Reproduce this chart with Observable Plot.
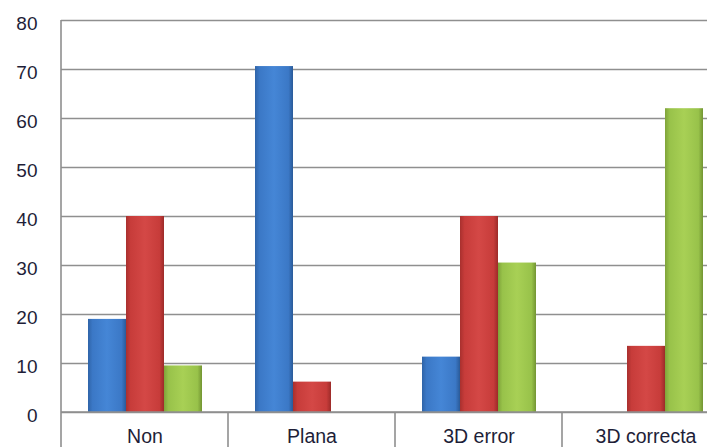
<!DOCTYPE html>
<html>
<head>
<meta charset="utf-8">
<script src="https://cdn.jsdelivr.net/npm/d3@7"></script>
<script src="https://cdn.jsdelivr.net/npm/@observablehq/plot@0.6"></script>
<style>
  html, body { margin: 0; padding: 0; background: #fff; }
  #chart svg { display: block; }
</style>
</head>
<body>
<svg width="0" height="0" style="position:absolute">
  <defs>
    <linearGradient id="gBlue" x1="0" x2="1" y1="0" y2="0">
      <stop offset="0" stop-color="#2f64a8"/>
      <stop offset="0.12" stop-color="#3b78c6"/>
      <stop offset="0.5" stop-color="#4586d6"/>
      <stop offset="0.88" stop-color="#3b78c6"/>
      <stop offset="1" stop-color="#2a5a98"/>
    </linearGradient>
    <linearGradient id="gRed" x1="0" x2="1" y1="0" y2="0">
      <stop offset="0" stop-color="#a8302e"/>
      <stop offset="0.12" stop-color="#c73c3a"/>
      <stop offset="0.5" stop-color="#d44846"/>
      <stop offset="0.88" stop-color="#c73c3a"/>
      <stop offset="1" stop-color="#9c2b29"/>
    </linearGradient>
    <linearGradient id="gGreen" x1="0" x2="1" y1="0" y2="0">
      <stop offset="0" stop-color="#7fa33a"/>
      <stop offset="0.12" stop-color="#98c24a"/>
      <stop offset="0.5" stop-color="#a8d055"/>
      <stop offset="0.88" stop-color="#98c24a"/>
      <stop offset="1" stop-color="#739533"/>
    </linearGradient>
  </defs>
</svg>
<div id="chart"></div>
<script>
const categories = ["Non", "Plana", "3D error", "3D correcta"];
const seriesNames = ["A", "B", "C"];
const seriesA = [19, 70.6, 11.3, 0];
const seriesB = [40, 6.2, 40, 13.5];
const seriesC = [9.5, 0, 30.5, 62];
const yTicks = [0, 10, 20, 30, 40, 50, 60, 70, 80];
const fills = ["url(#gBlue)", "url(#gRed)", "url(#gGreen)"];

const allSeries = [seriesA, seriesB, seriesC];
const data = [];
categories.forEach((c, i) => {
  seriesNames.forEach((s, j) => {
    data.push({cat: c, series: s, value: allSeries[j][i], fill: fills[j]});
  });
});

const gridColor = "#8f8f8f";
const W = 707, H = 447;

const chart = Plot.plot({
  width: W,
  height: H,
  marginTop: 20,
  marginBottom: 35,
  marginLeft: 60,
  marginRight: -22,
  style: {fontFamily: "'Liberation Sans', Arial, sans-serif", fontSize: "19px", color: "#222", background: "#fff"},
  fx: {domain: categories, padding: 0, label: null},
  x: {domain: seriesNames, padding: 0, paddingOuter: 0.68, axis: null},
  y: {domain: [0, 80], label: null},
  marks: [
    Plot.gridY(yTicks, {stroke: gridColor, strokeOpacity: 1, strokeWidth: 1.6}),
    Plot.barY(data.filter(d => d.value > 0), {
      fx: "cat", x: "series", y: "value", fill: d => d.fill,
      style: "filter: drop-shadow(1.5px 1px 1px rgba(0,0,0,0.3))"
    }),
    Plot.axisY(yTicks, {tickSize: 0, tickPadding: 24, dy: 3, fontSize: 19, fill: "#1e1e38", label: null}),
    Plot.axisFx({anchor: "bottom", tickSize: 0, tickPadding: 17, fontSize: 19.5, fill: "#1e1e38", label: null})
  ]
});

// category separators below the axis and the left border, from the plot's scales
const fx = chart.scale("fx");
const y = chart.scale("y");
const svg = d3.select(chart);
const sep = svg.append("g").attr("stroke", gridColor).attr("stroke-width", 1.6);
const y0 = y.apply(0);
const yTop = y.apply(80);
categories.forEach((c, i) => {
  const x0 = fx.apply(c);
  sep.append("line").attr("x1", x0).attr("x2", x0)
    .attr("y1", i === 0 ? yTop : y0).attr("y2", H);
});
const last = categories[categories.length - 1];
const xEnd = fx.apply(last) + fx.bandwidth;
sep.append("line").attr("x1", xEnd).attr("x2", xEnd).attr("y1", y0).attr("y2", H);
sep.append("line").attr("x1", fx.apply(categories[0])).attr("x2", xEnd).attr("y1", y0).attr("y2", y0);

document.getElementById("chart").append(chart);
</script>
</body>
</html>
